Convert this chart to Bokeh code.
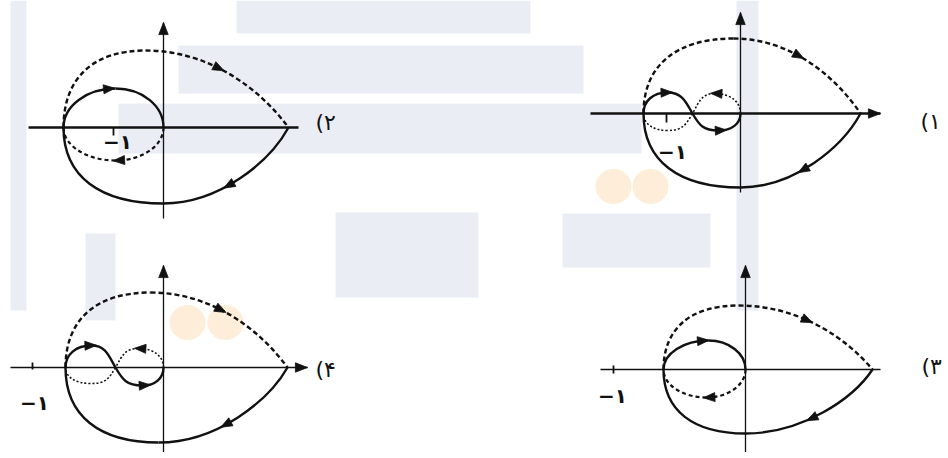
import math
from bokeh.plotting import figure
from bokeh.models import Range1d, ColumnDataSource
from bokeh.core.properties import value
from bokeh.embed import file_html
from bokeh.resources import INLINE

# ---------------- data (sketch coordinates, y grows downward) ----------------
# panel order: 1 (top-right), 2 (top-left), 3 (bottom-right), 4 (bottom-left)
panel_labels = ["(۱", "(۲", "(۳", "(۴"]
minus_one_text = "−۱"

origin_x = [740, 163, 745, 163]
origin_y = [113, 127, 369, 367]
h_axis_from = [590, 28, 600, 10]
h_axis_to = [880, 298, 880, 307]
h_axis_arrow = [True, False, False, True]
h_axis_width = [2.4, 2.6, 1.6, 1.6]
v_axis_top = [12, 22, 265, 265]
v_axis_bottom = [192, 218, 458, 458]

minus_one_x = [666, 113, 613, 32]
minus_one_tick = [(113, 122), (127, 135), (365, 373), (362, 369)]
minus_one_label_xy = [(672, 151), (117, 141), (612, 395), (34, 402)]
panel_label_xy = [(920, 121), (315, 122), (921, 366), (315, 369)]

# outer tear-drop contour: left point x, tip x, top (x, y), bottom (x, y)
outer_left = [643, 63, 663, 65]
outer_tip = [860, 288, 872, 287]
outer_top = [(733, 38), (145, 50), (738, 305), (150, 292)]
outer_bottom = [(740, 187), (163, 203), (745, 433), (158, 442)]

# inner loop type
inner_kind = ["eight", "circle", "circle", "eight"]
# circle: top (x, y), bottom (x, y)
circle_top = [None, (115, 88), (708, 340), None]
circle_bottom = [None, (115, 160), (706, 397), None]
# figure eight: crossing x, left-lobe top/bottom, right-lobe top/bottom
eight_cross = [692, None, None, 115]
eight_left_top = [(667, 92), None, None, (91, 345)]
eight_left_bottom = [(667, 130), None, None, (90, 383)]
eight_right_top = [(714, 93), None, None, (138, 348)]
eight_right_bottom = [(718, 130), None, None, (142, 385)]

# watermark (faint logo behind the drawing)
wm_left = [10, 236, 178, 118, 736, 85, 335, 562]
wm_right = [26, 530, 583, 641, 758, 115, 478, 710]
wm_top = [0, 0, 45, 103, 0, 233, 212, 213]
wm_bottom = [310, 33, 93, 153, 310, 320, 297, 267]
dot_x = [613, 650, 187, 225]
dot_y = [186, 186, 322, 322]

INK = "#111111"
WM = "#eaeef4"
DOT = "#fdedd9"

# ---------------- geometry helpers ----------------
def vh(p0, p1, k=0.5523):
    (x0, y0), (x1, y1) = p0, p1
    return (x0, y0, x0, y0 + k * (y1 - y0), x1 - k * (x1 - x0), y1, x1, y1)

def hv(p0, p1, k=0.5523):
    (x0, y0), (x1, y1) = p0, p1
    return (x0, y0, x0 + k * (x1 - x0), y0, x1, y1 - k * (y1 - y0), x1, y1)

def bez_at(s, t):
    x0, y0, a0, b0, a1, b1, x1, y1 = s
    m = 1 - t
    x = m**3 * x0 + 3 * m * m * t * a0 + 3 * m * t * t * a1 + t**3 * x1
    y = m**3 * y0 + 3 * m * m * t * b0 + 3 * m * t * t * b1 + t**3 * y1
    dx = 3 * m * m * (a0 - x0) + 6 * m * t * (a1 - a0) + 3 * t * t * (x1 - a1)
    dy = 3 * m * m * (b0 - y0) + 6 * m * t * (b1 - b0) + 3 * t * t * (y1 - b1)
    n = math.hypot(dx, dy) or 1.0
    return x, y, dx / n, dy / n

groups = {"solid": [], "dash": [], "dash_in": [], "dot": []}
heads = []  # (x, y, ux, uy, size)

def add(group, segs, arrows=()):
    groups[group].extend(segs)
    for i, t in arrows:
        x, y, ux, uy = bez_at(segs[i], t)
        heads.append((x, y, ux, uy, 1.05))

for i in range(4):
    y0 = origin_y[i]
    L = (outer_left[i], y0)
    T = (outer_tip[i], y0)
    xp, yt = outer_top[i]
    xb, yb = outer_bottom[i]
    xl, xt = L[0], T[0]
    up1 = vh(L, (xp, yt), 0.64)
    up2 = (xp, yt, xp + 0.45 * (xt - xp), yt, xt - 0.2 * (xt - xp), y0 - 0.5 * (y0 - yt), xt, y0)
    lo1 = (xt, y0, xt - 0.15 * (xt - xb), y0 + 0.45 * (yb - y0), xb + 0.45 * (xt - xb), yb, xb, yb)
    lo2 = hv((xb, yb), L, 0.64)
    add("dash", [up1, up2], [(1, 0.42)])
    add("solid", [lo1, lo2], [(0, 0.58)])

    R = (origin_x[i], y0)
    if inner_kind[i] == "circle":
        ct, cb = circle_top[i], circle_bottom[i]
        add("solid", [vh(L, ct), hv(ct, R)], [(0, 0.92)])
        add("dash_in", [vh(R, cb), hv(cb, L)], [(0, 0.95)])
    else:
        xc = eight_cross[i]
        lt, lb = eight_left_top[i], eight_left_bottom[i]
        rt, rb = eight_right_top[i], eight_right_bottom[i]
        h = 0.62 * (y0 - lt[1])
        hx, hy = 0.5 * h, 0.866 * h
        k = 0.6
        s1 = vh(L, lt, k)
        s2 = (lt[0], lt[1], lt[0] + k * (xc - lt[0]), lt[1], xc - hx, y0 - hy, xc, y0)
        s3 = (xc, y0, xc + hx, y0 + hy, rb[0] - k * (rb[0] - xc), rb[1], rb[0], rb[1])
        s4 = hv(rb, R, k)
        add("solid", [s1, s2, s3, s4], [(0, 0.97), (3, 0.05)])
        e1 = vh(R, rt, k)
        e2 = (rt[0], rt[1], rt[0] - k * (rt[0] - xc), rt[1], xc + hx, y0 - hy, xc, y0)
        e3 = (xc, y0, xc - hx, y0 + hy, lb[0] + k * (xc - lb[0]), lb[1], lb[0], lb[1])
        e4 = hv(lb, L, k)
        add("dot", [e1, e2, e3, e4], [(0, 0.95)])

# ---------------- figure ----------------
W, H = 944, 452
p = figure(width=W, height=H, x_range=Range1d(0, W), y_range=Range1d(H, 0),
           output_backend="svg", toolbar_location=None, min_border=0)
p.axis.visible = False
p.grid.visible = False
p.outline_line_color = None
p.background_fill_color = "white"

# watermark
p.quad(left=wm_left, right=wm_right, top=wm_top, bottom=wm_bottom,
       fill_color=WM, line_color=None)
p.ellipse(x=dot_x, y=dot_y, width=36, height=35, fill_color=DOT, line_color=None)

# axes
for i in range(4):
    p.segment(x0=[h_axis_from[i]], y0=[origin_y[i]], x1=[h_axis_to[i]], y1=[origin_y[i]],
              line_color=INK, line_width=h_axis_width[i])
p.segment(x0=origin_x, y0=v_axis_top, x1=origin_x, y1=v_axis_bottom, line_color=INK, line_width=1.3)

ax_heads = []
for i in range(4):
    ax_heads.append((origin_x[i], v_axis_top[i], 0.0, -1.0, 1.1))
    if h_axis_arrow[i]:
        ax_heads.append((h_axis_to[i], origin_y[i], 1.0, 0.0, 1.1))

def head_polys(items, tip_at_point=False):
    xs, ys = [], []
    for x, y, ux, uy, s in items:
        ln, hw = 11 * s, 4.3 * s
        if tip_at_point:
            tx, ty = x, y
        else:
            tx, ty = x + ux * ln * 0.55, y + uy * ln * 0.55
        bx, by = tx - ux * ln, ty - uy * ln
        px, py = -uy, ux
        xs.append([tx, bx + px * hw, bx - px * hw])
        ys.append([ty, by + py * hw, by - py * hw])
    return xs, ys

def draw(group, **kw):
    segs = groups[group]
    src = ColumnDataSource(dict(
        x0=[s[0] for s in segs], y0=[s[1] for s in segs],
        cx0=[s[2] for s in segs], cy0=[s[3] for s in segs],
        cx1=[s[4] for s in segs], cy1=[s[5] for s in segs],
        x1=[s[6] for s in segs], y1=[s[7] for s in segs]))
    p.bezier(x0="x0", y0="y0", x1="x1", y1="y1", cx0="cx0", cy0="cy0",
             cx1="cx1", cy1="cy1", source=src, line_color=INK, **kw)

draw("solid", line_width=2.4)
draw("dash", line_width=2.4, line_dash="5 3")
draw("dash_in", line_width=2.2, line_dash="4 3")
draw("dot", line_width=1.6, line_dash="2 2")

hx_, hy_ = head_polys(heads)
p.patches(xs=hx_, ys=hy_, fill_color=INK, line_color=INK, line_width=0.8)
ax, ay = head_polys(ax_heads, tip_at_point=True)
p.patches(xs=ax, ys=ay, fill_color=INK, line_color=INK, line_width=0.8)

# -1 ticks and labels
p.segment(x0=minus_one_x, x1=minus_one_x,
          y0=[t[0] for t in minus_one_tick], y1=[t[1] for t in minus_one_tick],
          line_color=INK, line_width=1.8)
p.text(x=[q[0] for q in minus_one_label_xy], y=[q[1] for q in minus_one_label_xy],
       text=[minus_one_text] * 4, text_font=value("DejaVu Sans"), text_font_size="20px",
       text_font_style="bold", text_align="center", text_baseline="middle", text_color=INK)
p.text(x=[q[0] for q in panel_label_xy], y=[q[1] for q in panel_label_xy],
       text=panel_labels, text_font=value("DejaVu Sans"), text_font_size="22px",
       text_align="left", text_baseline="middle", text_color=INK)

open("out.html", "w").write(file_html(p, INLINE))
